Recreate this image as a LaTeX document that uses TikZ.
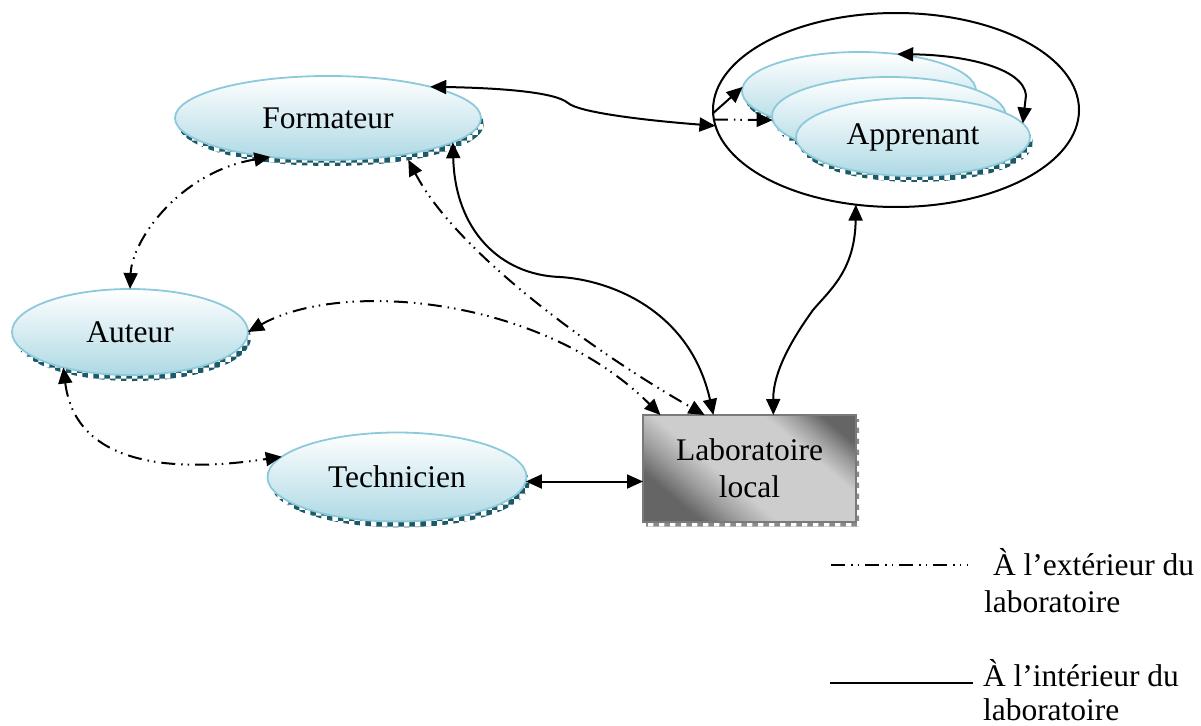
\documentclass[tikz,border=0pt]{standalone}
\usepackage{fontspec}
\setmainfont{Liberation Serif}
\usetikzlibrary{arrows.meta,shapes.geometric,shadows,patterns,calc}

\definecolor{ellborder}{HTML}{8CCADB}
\definecolor{ellbottom}{HTML}{AED9E4}
\definecolor{shadowteal}{HTML}{1C5A6A}
\definecolor{boxdark}{HTML}{656565}
\definecolor{boxlight}{HTML}{CDCDCD}
\definecolor{boxborder}{HTML}{7A7A7A}
\definecolor{boxshadow}{HTML}{8A8A8A}

% grey band shading of the laboratory box
\pgfdeclareverticalshading{labshade}{100bp}{%
  color(0bp)=(boxdark); color(27bp)=(boxdark);
  color(35bp)=(boxdark!45!boxlight); color(43bp)=(boxlight);
  color(66bp)=(boxlight); color(72bp)=(boxdark!45!boxlight);
  color(78bp)=(boxdark); color(100bp)=(boxdark)}

\begin{document}
\begin{tikzpicture}[x=1pt,y=-1pt,
  every node/.style={font=\fontsize{31.5}{37}\selectfont, inner sep=0pt, outer sep=0pt},
  actor/.style={ellipse, draw=ellborder, line width=1.8pt,
    top color=white, bottom color=ellbottom,
    general shadow={shadow xshift=3pt, shadow yshift=-6pt,
      pattern=checkerboard, pattern color=shadowteal}},
  labbox/.style={rectangle, draw=boxborder, line width=2.5pt,
    shade, shading=labshade, shading angle=-40, align=center,
    general shadow={shadow xshift=3pt, shadow yshift=-4pt,
      pattern=checkerboard, pattern color=boxshadow}},
  group/.style={ellipse, draw=black, line width=2pt},
  tipA/.tip={Triangle[length=16pt,width=14pt]},
  link/.style={line width=2pt, tipA-tipA},
  oneway/.style={line width=2pt, -tipA},
  extlink/.style={dash pattern=on 14pt off 6pt on 1.5pt off 5pt on 1.5pt off 6pt},
]
\useasboundingbox (0,0) rectangle (1201,725);

% actors
\node[actor, minimum width=306pt, minimum height=84pt] (form) at (328,118) {Formateur};
\node[actor, minimum width=236pt, minimum height=86pt] (aut) at (130,332) {Auteur};
\node[actor, minimum width=259pt, minimum height=89pt] (tech) at (397,477) {Technicien};
\node[labbox, minimum width=213pt, minimum height=107pt] (lab) at (749.5,468.5) {Laboratoire\\local};

% group of learners
\node[group, minimum width=366pt, minimum height=194pt] (outer) at (896,110) {};
\node[actor, minimum width=234pt, minimum height=78pt] (app1) at (859,91) {};
\node[actor, minimum width=234pt, minimum height=78pt] (app2) at (889,116) {};
\node[actor, minimum width=234pt, minimum height=78pt] (app3) at (913,137) {Apprenant};

% links inside the group
\draw[oneway] (outer.181) -- (app1.178);
\draw[oneway, extlink] (outer.183) -- (app2.182);
\draw[link] (app1.44) .. controls (965,55) and (1023,68) .. (1026,95) -- (app3.7);

% Formateur <-> group
\draw[link] (form.17) .. controls (500,88) and (555,92) .. (568,103)
  .. controls (578,112) and (640,120) .. (outer.185);

% links outside the laboratory
\draw[link, extlink] (form.214) .. controls (180,172) and (132,240) .. (aut.north);
\draw[link, extlink] (aut.208) .. controls (75,460) and (160,475) .. (tech.170);
\draw[link, extlink] (aut.east) .. controls (340,280) and (540,295) .. (lab.149);
\draw[link, extlink] ([yshift=-6pt]form.-24) .. controls (455,250) and (590,350) .. (lab.130);

% links inside the laboratory
\draw[link] (form.-11) .. controls (455,230) and (500,275) .. (560,277)
  .. controls (610,280) and (690,310) .. (lab.124);
\draw[link] (outer.247) .. controls (855,270) and (830,290) .. (813,310)
  .. controls (795,335) and (773,370) .. (lab.66);
\draw[link] (tech.-2) -- (tech.-2 -| lab.west);

% legend
\draw[line width=2pt, extlink] (831,565) -- (968,565);
\node[anchor=base west] (legext) at (993,575) {À l’extérieur du};
\node[anchor=base west] (legext2) at (984,612) {laboratoire};
\draw[line width=2pt] (830,683) -- (973,683);
\node[anchor=base west] (legint) at (983,686) {À l’intérieur du};
\node[anchor=base west] (legint2) at (983,720) {laboratoire};
\end{tikzpicture}
\end{document}
